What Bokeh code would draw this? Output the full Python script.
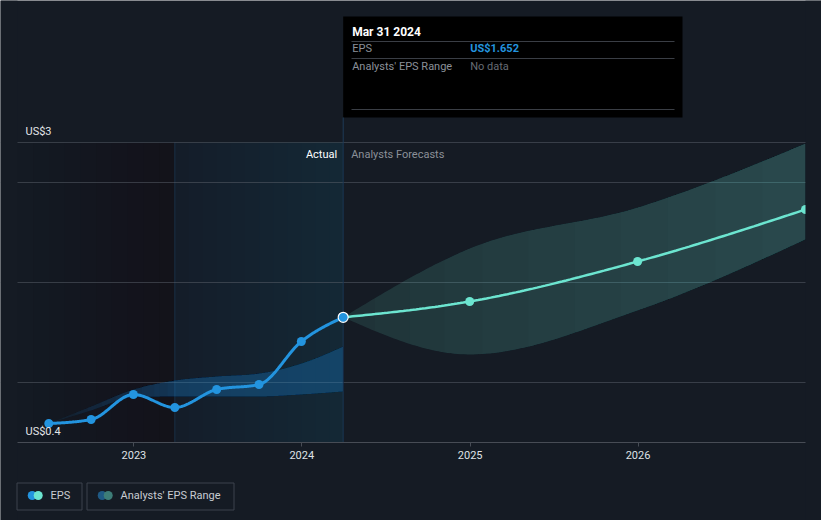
import numpy as np
from bokeh.plotting import figure
from bokeh.models import Range1d, FixedTicker, DatetimeTickFormatter
from bokeh.embed import file_html
from bokeh.resources import INLINE
from bokeh.core.properties import value

# ---------------- data ----------------
actual_dates = ["2022-06-30", "2022-09-30", "2022-12-31", "2023-03-31",
                "2023-06-30", "2023-09-30", "2023-12-31", "2024-03-31"]
actual_eps = [0.59, 0.63, 0.88, 0.75, 0.93, 0.98, 1.41, 1.652]
past_range_high = [0.59, 0.76, 0.93, 1.02, 1.06, 1.09, 1.19, 1.36]
past_range_low = [0.59, 0.72, 0.85, 0.86, 0.86, 0.86, 0.88, 0.91]

forecast_dates = ["2024-03-31", "2024-12-31", "2025-12-31", "2026-12-31"]
forecast_eps = [1.652, 1.81, 2.21, 2.73]
forecast_high = [1.652, 2.34, 2.75, 3.39]
forecast_low = [1.652, 1.28, 1.72, 2.43]

year_ticks = ["2023-01-01", "2024-01-01", "2025-01-01", "2026-01-01"]
y_label_values = [0.4, 3.4]
y_labels = ["US$0.4", "US$3"]
grid_values = [1, 2, 3, 3.4]
axis_value = 0.4
highlight_start = "2023-03-31"
range_start = "2022-04-23"
tooltip_title = "Mar 31 2024"
tooltip_eps = "US$1.652"
legend_labels = ["EPS", "Analysts' EPS Range"]

FONT = value("Roboto")
BG = "#151b24"


def to_ms(d):
    return float(np.datetime64(d).astype("datetime64[ms]").astype(np.int64))


def monotone(xs, ys, n=40):
    x = np.asarray(xs, float)
    y = np.asarray(ys, float)
    h = np.diff(x)
    d = np.diff(y) / h
    m = np.zeros(len(x))
    for i in range(1, len(x) - 1):
        if d[i - 1] * d[i] <= 0:
            m[i] = 0.0
        else:
            pp = (d[i - 1] * h[i] + d[i] * h[i - 1]) / (h[i - 1] + h[i])
            m[i] = (np.sign(d[i - 1]) + np.sign(d[i])) * min(abs(d[i - 1]), abs(d[i]), 0.5 * abs(pp))
    if len(x) > 2:
        m[0] = (3 * d[0] - m[1]) / 2
        m[-1] = (3 * d[-1] - m[-2]) / 2
    else:
        m[0] = m[-1] = d[0]
    ox, oy = [], []
    for i in range(len(x) - 1):
        t = np.linspace(0, 1, n, endpoint=(i == len(x) - 2))
        h00 = 2 * t**3 - 3 * t**2 + 1
        h10 = t**3 - 2 * t**2 + t
        h01 = -2 * t**3 + 3 * t**2
        h11 = t**3 - t**2
        ox.extend(x[i] + t * h[i])
        oy.extend(h00 * y[i] + h10 * h[i] * m[i] + h01 * y[i + 1] + h11 * h[i] * m[i + 1])
    return np.array(ox), np.array(oy)


ax = [to_ms(d) for d in actual_dates]
fx = [to_ms(d) for d in forecast_dates]
X0 = to_ms(range_start)
X1 = fx[-1]
S = (X1 - X0) / 788.0          # ms per pixel
XL = X0 - 17 * S
XR = X1 + 16 * S
Y0 = axis_value - 78 / 100.0
Y1 = axis_value + 442 / 100.0
HS = to_ms(highlight_start)
T_LAST = ax[-1]
TOP = grid_values[-1]


def xd(px):
    return XL + px * S


def yd(py):
    return Y0 + (520 - py) / 100.0


p = figure(width=821, height=520, x_axis_type="datetime",
           x_range=Range1d(XL, XR), y_range=Range1d(Y0, Y1),
           output_backend="svg", toolbar_location=None,
           y_axis_location=None, min_border=0)
p.background_fill_color = BG
p.border_fill_color = BG
p.outline_line_color = None

p.xgrid.grid_line_color = None
p.ygrid.ticker = FixedTicker(ticks=grid_values)
p.ygrid.grid_line_color = "#5b616c"
p.ygrid.grid_line_alpha = 0.5

xa = p.xaxis[0]
xa.fixed_location = axis_value
xa.bounds = (X0, X1)
xa.ticker = FixedTicker(ticks=[to_ms(d) for d in year_ticks])
xa.formatter = DatetimeTickFormatter(years="%Y", months="%Y", days="%Y", hours="%Y",
                                     hourmin="%Y", minutes="%Y", minsec="%Y",
                                     seconds="%Y", milliseconds="%Y")
xa.axis_line_color = "#474c55"
xa.major_tick_line_color = "#474c55"
xa.major_tick_out = 4
xa.major_tick_in = 0
xa.minor_tick_out = 0
xa.minor_tick_in = 0
xa.major_label_standoff = 4
xa.major_label_text_font = "Roboto"
xa.major_label_text_font_size = "11px"
xa.major_label_text_color = "#dfe2e6"

# regions (underlay glyphs, below the grid)
K = 10
p.quad(left=[X0 + k / K * (HS - X0) for k in range(K)], right=[HS] * K,
       bottom=[axis_value] * K, top=[TOP] * K, fill_color="#0d0f14", fill_alpha=0.05,
       line_color=None, level="underlay")
p.quad(left=[HS], right=[T_LAST], bottom=[axis_value], top=[TOP], fill_color="#141c27",
       line_color=None, level="underlay")
K = 12
p.quad(left=[HS + k / K * (T_LAST - HS) for k in range(K)], right=[T_LAST] * K,
       bottom=[axis_value] * K, top=[TOP] * K, fill_color="#1f5a94", fill_alpha=0.024,
       line_color=None, level="underlay")
p.segment(x0=[HS], x1=[HS], y0=[axis_value], y1=[TOP], line_color="#1c3048", line_width=1,
          level="underlay")

# past analysts range band
bx, bh = monotone(ax, past_range_high)
_, bl = monotone(ax, past_range_low)
p.patch(np.concatenate([bx, bx[::-1]]), np.concatenate([bh, bl[::-1]]),
        fill_color="#2394df", fill_alpha=0.06, line_color=None)
N = len(bx)
for k in range(1, 10):
    i0 = int(k / 10 * N * 0.45)
    p.patch(np.concatenate([bx[i0:], bx[i0:][::-1]]), np.concatenate([bh[i0:], bl[i0:][::-1]]),
            fill_color="#2394df", fill_alpha=0.034, line_color=None)

# forecast band
fxx, fh = monotone(fx, forecast_high)
_, fl = monotone(fx, forecast_low)
p.patch(np.concatenate([fxx, fxx[::-1]]), np.concatenate([fh, fl[::-1]]),
        fill_color="#6ce5d0", fill_alpha=0.12, line_color=None)
N = len(fxx)
for k in range(1, 11):
    i0 = int(k / 11 * N)
    p.patch(np.concatenate([fxx[i0:], fxx[i0:][::-1]]), np.concatenate([fh[i0:], fl[i0:][::-1]]),
            fill_color="#6ce5d0", fill_alpha=0.021, line_color=None)

# tooltip
p.quad(left=[T_LAST], right=[xd(682)], top=[yd(16)], bottom=[yd(117)],
       fill_color="#000000", line_color=None)
p.segment(x0=[T_LAST], x1=[T_LAST], y0=[axis_value], y1=[yd(117)], line_color="#1d3a57",
          line_width=1)
p.segment(x0=[xd(351)] * 3, x1=[xd(674)] * 3, y0=[yd(41), yd(58), yd(109)],
          y1=[yd(41), yd(58), yd(109)], line_color="#3a3e45", line_width=1)
p.text(x=[T_LAST], y=[yd(31)], text=[tooltip_title], x_offset=9, text_baseline="middle",
       text_font=FONT, text_font_size="12px", text_color="#ffffff", text_font_style="bold")
p.text(x=[T_LAST, T_LAST], y=[yd(48), yd(66)], text=["EPS", "Analysts' EPS Range"], x_offset=9,
       text_baseline="middle", text_font=FONT, text_font_size="11px", text_color="#8b9098")
p.text(x=[T_LAST], y=[yd(48)], text=[tooltip_eps], x_offset=127, text_baseline="middle",
       text_font=FONT, text_font_size="11px", text_color="#2394df", text_font_style="bold")
p.text(x=[T_LAST], y=[yd(66)], text=["No data"], x_offset=127, text_baseline="middle",
       text_font=FONT, text_font_size="11px", text_color="#676c74")

# lines
lx, ly = monotone(ax, actual_eps)
p.line(lx, ly, line_color="#2394df", line_width=3)
fx2, fy2 = monotone(fx, forecast_eps)
p.line(fx2, fy2, line_color="#6ce5d0", line_width=2.5)
p.scatter(fx[1:], forecast_eps[1:], size=9, fill_color="#6ce5d0", line_color=None)
p.scatter(ax[:-1], actual_eps[:-1], size=9, fill_color="#2394df", line_color=None)
p.scatter(ax[-1:], actual_eps[-1:], size=10, fill_color="#2394df", line_color="#ffffff", line_width=1.2)

# side margins (mask grid lines and the last marker beyond the plot area)
p.quad(left=[XL, X1], right=[X0, XR], bottom=[Y0] * 2, top=[Y1] * 2,
       fill_color=BG, line_color=None)

# labels
p.text(x=[X0, X0], y=y_label_values, text=y_labels, x_offset=8, y_offset=-5,
       text_baseline="bottom", text_font=FONT, text_font_size="11px", text_color="#e3e5e8")
p.text(x=[T_LAST], y=[TOP], text=["Actual"], x_offset=-6, y_offset=12, text_align="right",
       text_baseline="middle", text_font=FONT, text_font_size="11px", text_color="#ffffff")
p.text(x=[T_LAST], y=[TOP], text=["Analysts Forecasts"], x_offset=8, y_offset=12,
       text_baseline="middle", text_font=FONT, text_font_size="11px", text_color="#8b9098")

# legend
p.quad(left=[xd(16.5), xd(86.5)], right=[xd(81.5), xd(233.5)],
       top=[yd(482.5)] * 2, bottom=[yd(509.5)] * 2,
       fill_color=None, line_color="#3d434c", line_width=1)
p.scatter([xd(31.7), xd(37.7), xd(101.7), xd(107.7)], [yd(495)] * 4, size=9,
          fill_color=["#2394df", "#6ce5d0", "#1f5a85", "#3d7d78"], line_color=None)
p.text(x=[xd(50), xd(120)], y=[yd(495)] * 2, text=legend_labels, text_baseline="middle",
       text_font=FONT, text_font_size="11px", text_color="#c8ccd2")

open("out.html", "w").write(file_html(p, INLINE))
